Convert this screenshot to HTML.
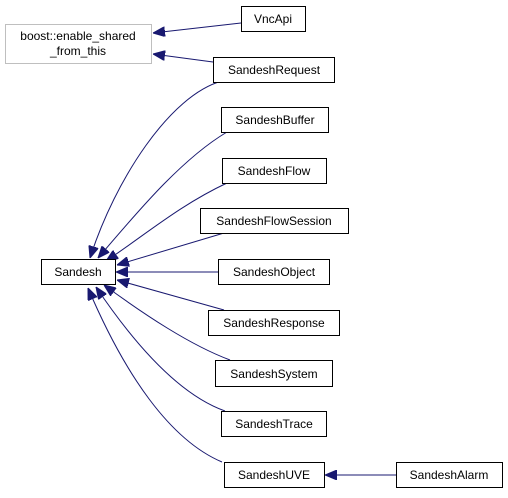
<!DOCTYPE html>
<html><head><style>body{margin:0;background:#fff}</style></head><body>
<svg width="508" height="493" xmlns="http://www.w3.org/2000/svg" font-family="Liberation Sans, sans-serif" font-size="12">
<defs><marker id="a" markerWidth="12" markerHeight="10" refX="12" refY="5" orient="auto" markerUnits="userSpaceOnUse"><path d="M0,0 L12,5 L0,10 Z" fill="#191970" stroke="#191970"/></marker></defs>
<g fill="none" stroke="#191970" stroke-width="1" marker-end="url(#a)">
<path d="M241,23 L153,33"/>
<path d="M213,62 L153,54"/>
<path d="M222,81 C170,95 115,180 90,258"/>
<path d="M227,132 C180,160 135,215 98,258"/>
<path d="M227,183 C180,205 145,235 106,261"/>
<path d="M224,233 L117,265"/>
<path d="M218,272 L116,272"/>
<path d="M224,310 L117,280"/>
<path d="M230,360 C190,345 145,315 104,285"/>
<path d="M225,411 C180,395 135,345 96,287"/>
<path d="M222,462 C170,440 125,375 88,288"/>
<path d="M396,475 L325,475"/>
</g>
<rect x="5.5" y="24.5" width="146" height="39" fill="#fff" stroke="#bfbfbf"/>
<text x="78" y="40" text-anchor="middle">boost::enable_shared</text>
<text x="78" y="55" text-anchor="middle">_from_this</text>
<g fill="#fff" stroke="#000">
<rect x="241.5" y="6.5" width="64" height="25"/>
<rect x="213.5" y="57.5" width="121" height="25"/>
<rect x="221.5" y="107.5" width="107" height="25"/>
<rect x="222.5" y="158.5" width="104" height="25"/>
<rect x="200.5" y="208.5" width="148" height="25"/>
<rect x="41.5" y="259.5" width="74" height="25"/>
<rect x="218.5" y="259.5" width="111" height="25"/>
<rect x="208.5" y="310.5" width="131" height="25"/>
<rect x="215.5" y="360.5" width="117" height="26"/>
<rect x="221.5" y="411.5" width="105" height="25"/>
<rect x="224.5" y="462.5" width="100" height="25"/>
<rect x="396.5" y="462.5" width="106" height="25"/>
</g>
<g text-anchor="middle" fill="#000">
<text x="273" y="23">VncApi</text>
<text x="274" y="74">SandeshRequest</text>
<text x="275" y="124">SandeshBuffer</text>
<text x="274" y="175">SandeshFlow</text>
<text x="274" y="225">SandeshFlowSession</text>
<text x="78" y="276">Sandesh</text>
<text x="274" y="276">SandeshObject</text>
<text x="274" y="327">SandeshResponse</text>
<text x="274" y="378">SandeshSystem</text>
<text x="274" y="428">SandeshTrace</text>
<text x="274" y="479">SandeshUVE</text>
<text x="449" y="479">SandeshAlarm</text>
</g>
</svg>
</body></html>
